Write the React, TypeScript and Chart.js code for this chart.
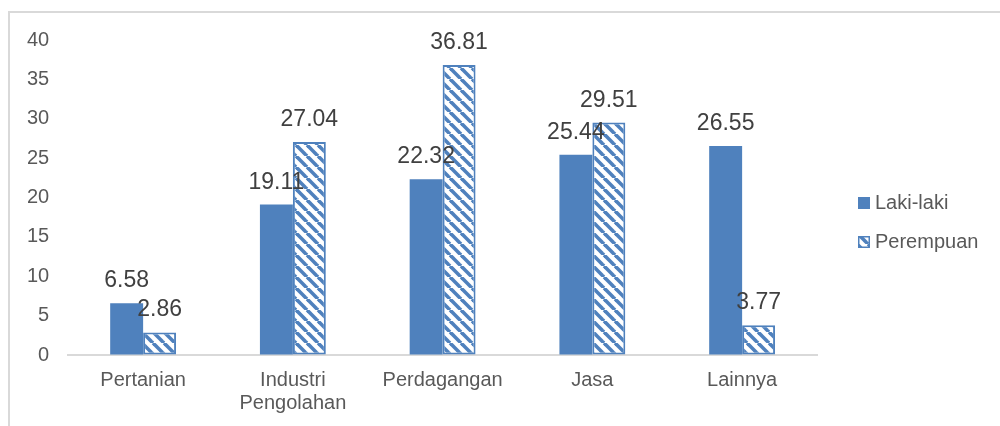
import React, { useEffect, useRef } from 'react';
import { Chart, registerables } from 'chart.js';

Chart.register(...registerables);

const categories: (string | string[])[] = ['Pertanian', ['Industri', 'Pengolahan'], 'Perdagangan', 'Jasa', 'Lainnya'];
const seriesNames = ['Laki-laki', 'Perempuan'];
const lakiLaki = [6.58, 19.11, 22.32, 25.44, 26.55];
const perempuan = [2.86, 27.04, 36.81, 29.51, 3.77];
const yTicks = [0, 5, 10, 15, 20, 25, 30, 35, 40];

const BLUE = '#4F81BD';
const TEXT = '#595959';
const LABEL = '#404040';
const FONT = "'Liberation Sans', Arial, sans-serif";

function makeHatch(): CanvasPattern | string {
  const s = 11;
  const c = document.createElement('canvas');
  c.width = s;
  c.height = s;
  const g = c.getContext('2d');
  if (!g) return BLUE;
  g.fillStyle = '#ffffff';
  g.fillRect(0, 0, s, s);
  g.strokeStyle = BLUE;
  g.lineWidth = 3.6;
  for (const k of [-s, 0, s]) {
    g.beginPath();
    g.moveTo(k, 0);
    g.lineTo(k + s, s);
    g.stroke();
  }
  const p = g.createPattern(c, 'repeat');
  return p || BLUE;
}

const valueLabels = {
  id: 'valueLabels',
  afterDatasetsDraw(chart: any) {
    const ctx = chart.ctx;
    ctx.save();
    ctx.font = `23px ${FONT}`;
    ctx.fillStyle = LABEL;
    ctx.textAlign = 'center';
    ctx.textBaseline = 'alphabetic';
    chart.data.datasets.forEach((ds: any, i: number) => {
      const meta = chart.getDatasetMeta(i);
      meta.data.forEach((el: any, j: number) => {
        ctx.fillText(Number(ds.data[j]).toFixed(2), el.x, el.y - 16);
      });
    });
    ctx.restore();
  },
};

const sideLegend = {
  id: 'sideLegend',
  afterDraw(chart: any) {
    const ctx = chart.ctx;
    const x0 = chart.chartArea.right + 41;
    const spacing = 39;
    const n = chart.data.datasets.length;
    const mid = chart.height / 2 + 3;
    ctx.save();
    ctx.font = `20px ${FONT}`;
    ctx.textBaseline = 'middle';
    ctx.textAlign = 'left';
    chart.data.datasets.forEach((ds: any, i: number) => {
      const cy = mid + (i - (n - 1) / 2) * spacing;
      ctx.fillStyle = ds.backgroundColor;
      ctx.fillRect(x0, cy - 6, 12, 12);
      if (ds.borderWidth) {
        ctx.strokeStyle = ds.borderColor;
        ctx.lineWidth = 1.5;
        ctx.strokeRect(x0 + 0.75, cy - 5.25, 10.5, 10.5);
      }
      ctx.fillStyle = TEXT;
      ctx.fillText(ds.label, x0 + 17, cy);
    });
    ctx.restore();
  },
};

export default function App() {
  const ref = useRef<HTMLCanvasElement>(null);

  useEffect(() => {
    if (!ref.current) return;
    const hatch = makeHatch();
    const chart = new Chart(ref.current, {
      type: 'bar',
      data: {
        labels: categories as any,
        datasets: [
          {
            label: seriesNames[0],
            data: lakiLaki,
            backgroundColor: BLUE,
            borderWidth: 0,
            categoryPercentage: 0.44,
            barPercentage: 1,
          },
          {
            label: seriesNames[1],
            data: perempuan,
            backgroundColor: hatch as any,
            borderColor: BLUE,
            borderWidth: 2,
            borderSkipped: false,
            categoryPercentage: 0.44,
            barPercentage: 1,
          },
        ],
      },
      options: {
        responsive: false,
        animation: false,
        devicePixelRatio: 1,
        layout: { padding: { left: 17, right: 183, top: 27, bottom: 11 } },
        plugins: {
          legend: { display: false },
          tooltip: { enabled: false },
        },
        scales: {
          x: {
            grid: {
              display: true,
              color: 'rgba(0,0,0,0)',
              drawOnChartArea: false,
              drawTicks: true,
              tickLength: 14,
            },
            border: { display: true, color: '#d9d9d9', width: 2 },
            ticks: {
              color: TEXT,
              font: { size: 20, family: FONT, lineHeight: 1.15 },
              padding: 0,
              maxRotation: 0,
              autoSkip: false,
            },
          },
          y: {
            min: 0,
            max: 40,
            grid: {
              display: true,
              color: 'rgba(0,0,0,0)',
              drawOnChartArea: false,
              drawTicks: true,
              tickLength: 19,
            },
            border: { display: false },
            afterBuildTicks: (scale: any) => {
              scale.ticks = yTicks.map((v) => ({ value: v }));
            },
            ticks: {
              stepSize: 5,
              color: TEXT,
              font: { size: 20, family: FONT },
              padding: 0,
            },
          },
        },
      },
      plugins: [valueLabels, sideLegend],
    });
    return () => chart.destroy();
  }, []);

  return (
    <div
      style={{
        position: 'absolute',
        left: 8,
        top: 11,
        width: 990,
        height: 413,
        borderTop: '2px solid #d9d9d9',
        borderLeft: '2px solid #d9d9d9',
        background: '#ffffff',
      }}
    >
      <canvas ref={ref} width={990} height={413} style={{ display: 'block', width: 990, height: 413 }} />
    </div>
  );
}
